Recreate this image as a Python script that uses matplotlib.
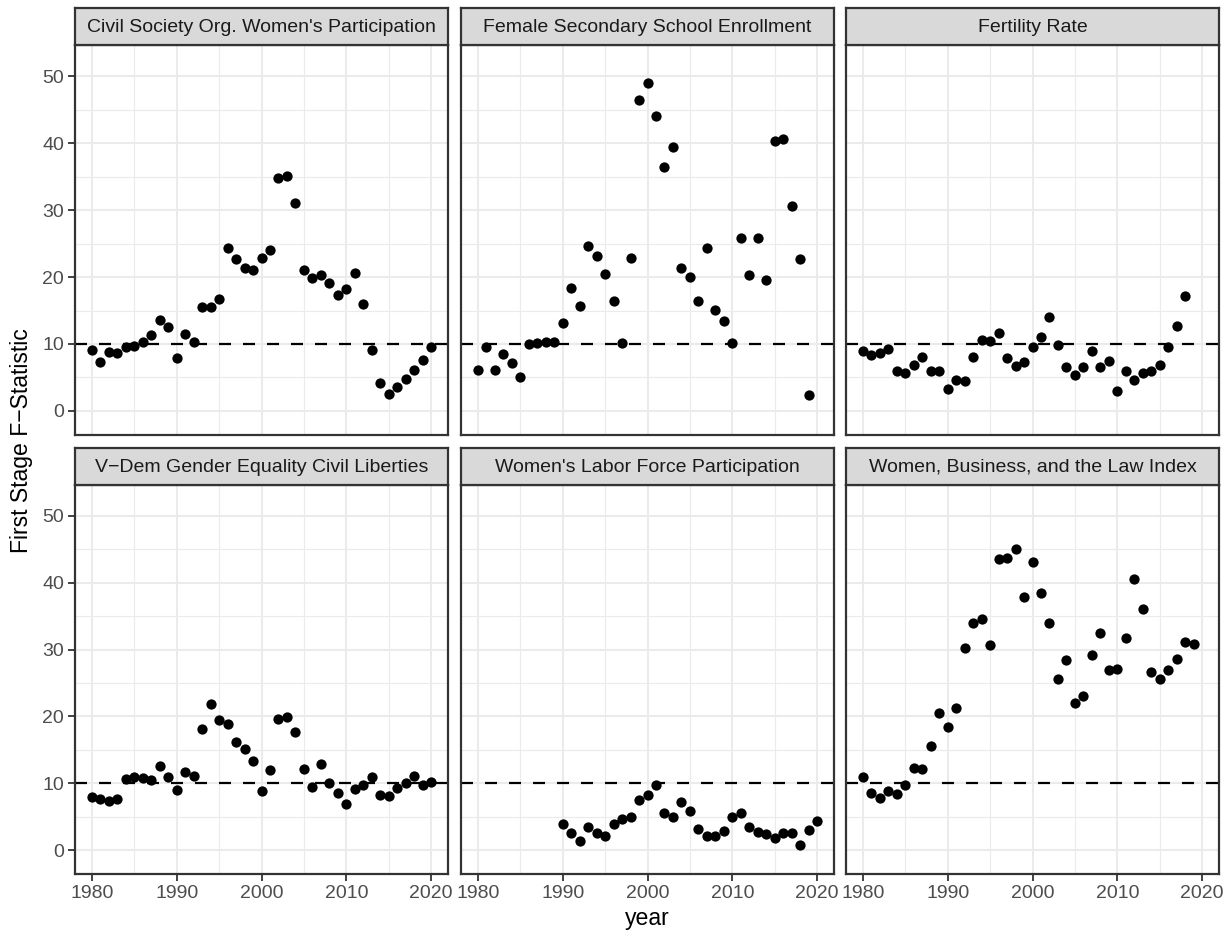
import matplotlib
matplotlib.use("Agg")
import matplotlib.pyplot as plt
from matplotlib.ticker import MultipleLocator

# === DATA ===
years_full = list(range(1980, 2021))

civil_society = [9.1, 7.3, 8.8, 8.6, 9.6, 9.7, 10.3, 11.4, 13.6, 12.5,
                 7.9, 11.5, 10.3, 15.5, 15.6, 16.7, 24.4, 22.7, 21.3, 21.0,
                 22.8, 24.0, 34.8, 35.1, 31.1, 21.1, 19.8, 20.3, 19.1, 17.3,
                 18.2, 20.6, 15.9, 9.1, 4.1, 2.5, 3.6, 4.8, 6.1, 7.6, 9.6]

years_school = list(range(1980, 2020))
female_school = [6.1, 9.6, 6.1, 8.5, 7.2, 5.0, 10.0, 10.1, 10.3, 10.3,
                 13.2, 18.4, 15.7, 24.6, 23.1, 20.5, 16.4, 10.2, 22.9, 46.4,
                 49.0, 44.1, 36.5, 39.5, 21.4, 20.0, 16.4, 24.3, 15.1, 13.4,
                 10.1, 25.9, 20.3, 25.9, 19.5, 40.4, 40.7, 30.6, 22.7, 2.4]

years_fertility = list(range(1980, 2019))
fertility = [9.0, 8.3, 8.7, 9.2, 6.0, 5.7, 6.9, 8.0, 5.9, 5.9,
             3.3, 4.6, 4.4, 8.0, 10.6, 10.5, 11.7, 7.9, 6.7, 7.3,
             9.6, 11.0, 14.0, 9.8, 6.6, 5.4, 6.5, 9.0, 6.5, 7.5,
             2.9, 5.9, 4.6, 5.6, 5.9, 6.9, 9.6, 12.7, 17.2]

vdem = [7.9, 7.7, 7.4, 7.6, 10.7, 10.9, 10.8, 10.5, 12.6, 11.0,
        9.0, 11.7, 11.1, 18.1, 21.8, 19.4, 18.9, 16.2, 15.2, 13.3,
        8.9, 12.0, 19.6, 19.9, 17.7, 12.2, 9.4, 12.9, 10.0, 8.6,
        6.9, 9.1, 9.8, 11.0, 8.2, 8.1, 9.3, 10.0, 11.1, 9.8, 10.2]

years_labor = list(range(1990, 2021))
labor_force = [3.9, 2.6, 1.4, 3.5, 2.6, 2.2, 3.9, 4.6, 5.0, 7.5,
               8.3, 9.8, 5.6, 5.0, 7.2, 5.8, 3.2, 2.2, 2.2, 2.9,
               5.0, 5.5, 3.4, 2.7, 2.4, 1.8, 2.5, 2.5, 0.8, 3.0, 4.4]

years_wbl = list(range(1980, 2020))
wbl_index = [10.9, 8.6, 7.8, 8.9, 8.4, 9.8, 12.3, 12.1, 15.6, 20.5,
             18.4, 21.2, 30.3, 33.9, 34.6, 30.7, 43.5, 43.7, 45.0, 37.8,
             43.1, 38.4, 34.0, 25.6, 28.5, 22.0, 23.0, 29.2, 32.5, 27.0,
             27.1, 31.8, 40.6, 36.1, 26.7, 25.6, 27.0, 28.6, 31.2, 30.9]

panels = [
    ("Civil Society Org. Women's Participation", years_full, civil_society),
    ("Female Secondary School Enrollment", years_school, female_school),
    ("Fertility Rate", years_fertility, fertility),
    ("V\u2212Dem Gender Equality Civil Liberties", years_full, vdem),
    ("Women's Labor Force Participation", years_labor, labor_force),
    ("Women, Business, and the Law Index", years_wbl, wbl_index),
]

# === LAYOUT (pixels on a 1226x930 canvas) ===
W, H = 1226, 930
COL_X = [75, 461, 846]
PANEL_W = 373
ROWS = [(45.5, 435.0, 8.5), (485.0, 874.3, 447.7)]  # panel top, panel bottom, strip top
SMALL = 14.0   # tick labels and strip text
BIG = 16.6     # axis titles

plt.rcParams["font.family"] = ["Liberation Sans", "DejaVu Sans"]

fig = plt.figure(figsize=(W / 100, H / 100), dpi=100)

for i, (title, yrs, vals) in enumerate(panels):
    r, c = divmod(i, 3)
    top, bot, strip_top = ROWS[r]
    x0 = COL_X[c]
    ax = fig.add_axes([x0 / W, 1 - bot / H, PANEL_W / W, (bot - top) / H])

    ax.set_xlim(1978, 2022)
    ax.set_ylim(-3.6, 54.6)
    ax.xaxis.set_major_locator(MultipleLocator(10))
    ax.xaxis.set_minor_locator(MultipleLocator(5))
    ax.yaxis.set_major_locator(MultipleLocator(10))
    ax.yaxis.set_minor_locator(MultipleLocator(5))
    ax.grid(which="major", color="#EBEBEB", linewidth=1.5)
    ax.grid(which="minor", color="#EBEBEB", linewidth=0.8)
    ax.set_axisbelow(True)

    ax.axhline(10, color="black", linewidth=1.6, dashes=(5.4, 5.4), zorder=2)
    ax.plot(yrs, vals, "o", color="black", markersize=7.4, markeredgewidth=0, zorder=3)

    for s in ax.spines.values():
        s.set_color("#333333")
        s.set_linewidth(1.6)

    ax.tick_params(which="minor", length=0)
    ax.tick_params(which="major", length=5, width=1.3, color="#333333",
                   labelsize=SMALL, labelcolor="#4D4D4D", pad=3)
    if c != 0:
        ax.tick_params(axis="y", length=0, labelleft=False)
    if r != 1:
        ax.tick_params(axis="x", length=0, labelbottom=False)

    # strip on top of each panel
    sax = fig.add_axes([x0 / W, 1 - top / H, PANEL_W / W, (top - strip_top) / H])
    sax.set_facecolor("#D9D9D9")
    sax.set_xticks([])
    sax.set_yticks([])
    for s in sax.spines.values():
        s.set_color("#333333")
        s.set_linewidth(1.6)
    sax.text(0.5, 0.48, title, ha="center", va="center", fontsize=SMALL,
             color="#1A1A1A", transform=sax.transAxes)

fig.text(647 / W, 1 - 918 / H, "year", ha="center", va="center", fontsize=BIG)
fig.text(22 / W, 1 - 441 / H, "First Stage F\u2212Statistic", ha="center", va="center",
         rotation=90, fontsize=BIG)

fig.savefig("out.png", dpi=100)
